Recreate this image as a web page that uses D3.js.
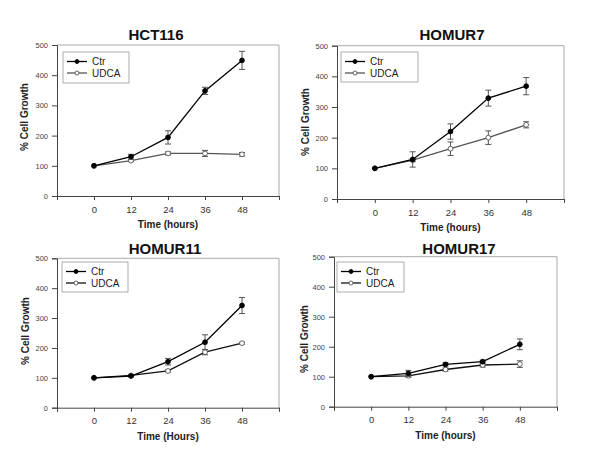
<!DOCTYPE html>
<html><head><meta charset="utf-8">
<script src="https://cdn.jsdelivr.net/npm/d3@7"></script>
<style>
html,body{margin:0;padding:0;background:#fff;}
svg{display:block;font-family:"Liberation Sans",Arial,sans-serif;}
</style></head>
<body>
<svg id="chart" width="600" height="467"></svg>
<script>
// ---- data ----
const timePoints = [0, 12, 24, 36, 48];
const yTicks = [0, 100, 200, 300, 400, 500];
const seriesNames = ["Ctr", "UDCA"];
const panelTitles = ["HCT116", "HOMUR7", "HOMUR11", "HOMUR17"];
const xLabels = ["Time (hours)", "Time (hours)", "Time (Hours)", "Time (hours)"];

const hct116Ctr = [100, 130, 194, 348, 449];
const hct116CtrErr = [0, 8, 22, 12, 30];
const hct116Udca = [100, 117, 141, 141, 138];
const hct116UdcaErr = [0, 3, 5, 10, 6];

const homur7Ctr = [100, 129, 220, 329, 368];
const homur7CtrErr = [0, 25, 25, 26, 28];
const homur7Udca = [100, 127, 164, 200, 242];
const homur7UdcaErr = [0, 5, 22, 22, 10];

const homur11Ctr = [100, 106, 154, 219, 342];
const homur11CtrErr = [0, 3, 11, 25, 27];
const homur11Udca = [100, 108, 123, 186, 216];
const homur11UdcaErr = [0, 3, 3, 9, 3];

const homur17Ctr = [100, 111, 141, 150, 208];
const homur17CtrErr = [0, 10, 5, 5, 18];
const homur17Udca = [100, 103, 124, 139, 142];
const homur17UdcaErr = [0, 5, 5, 7, 11];

const panelData = [
  [[hct116Ctr, hct116CtrErr], [hct116Udca, hct116UdcaErr]],
  [[homur7Ctr, homur7CtrErr], [homur7Udca, homur7UdcaErr]],
  [[homur11Ctr, homur11CtrErr], [homur11Udca, homur11UdcaErr]],
  [[homur17Ctr, homur17CtrErr], [homur17Udca, homur17UdcaErr]]
];

// ---- layout (positions only) ----
const layouts = [
  {l:57, t:45, r:279, b:196, tx:156, ty:40, ylx:24, yly:117, xly:228, lg:[63,52,129,83], udcaColor:"#555"},
  {l:337, t:45.7, r:564, b:199, tx:452, ty:40, ylx:305, yly:122, xly:231, lg:[341,52,418,82], udcaColor:"#555"},
  {l:57, t:258.3, r:279, b:407.7, tx:165, ty:254, ylx:25, yly:331, xly:440, lg:[62,262,128,292], udcaColor:"#111"},
  {l:334, t:256.7, r:557, b:406.7, tx:459, ty:254, ylx:304, yly:339, xly:439, lg:[337,262,404,292], udcaColor:"#111"}
];

const svg = d3.select("#chart");

layouts.forEach((L, i) => {
  const x = d3.scaleLinear().domain([-12, 60]).range([L.l, L.r]);
  const y = d3.scaleLinear().domain([0, 500]).range([L.b, L.t]);
  const g = svg.append("g");

  // frame (top/right light)
  g.append("path")
    .attr("d", `M${L.l},${L.t}H${L.r}V${L.b}`)
    .attr("fill", "none").attr("stroke", "#aaa").attr("stroke-width", 1);

  // x axis
  const xa = g.append("g").attr("transform", `translate(0,${L.b})`)
    .call(d3.axisBottom(x).tickValues([-12, 0, 12, 24, 36, 48, 60])
      .tickFormat(d => (d < 0 || d > 48) ? "" : d).tickSize(4).tickPadding(6));
  xa.select(".domain").attr("stroke", "#444");
  xa.selectAll(".tick line").attr("stroke", "#444");
  xa.selectAll("text").attr("fill", "#333").style("font-size", "9.5px");

  // y axis
  const ya = g.append("g").attr("transform", `translate(${L.l},0)`)
    .call(d3.axisLeft(y).tickValues(yTicks).tickSize(5).tickPadding(4));
  ya.select(".domain").attr("stroke", "#444");
  ya.selectAll(".tick line").attr("stroke", "#444");
  ya.selectAll("text").attr("fill", "#444").style("font-size", "7.5px");

  // title
  g.append("text").attr("x", L.tx).attr("y", L.ty).attr("text-anchor", "middle")
    .style("font-size", "15px").style("font-weight", "bold").attr("fill", "#111")
    .text(panelTitles[i]);
  // axis labels
  g.append("text").attr("x", (L.l + L.r) / 2).attr("y", L.xly).attr("text-anchor", "middle")
    .style("font-size", "10px").style("font-weight", "bold").attr("fill", "#222")
    .text(xLabels[i]);
  g.append("text").attr("transform", `translate(${L.ylx + 3.5},${L.yly}) rotate(-90)`)
    .attr("text-anchor", "middle")
    .style("font-size", "10px").style("font-weight", "bold").attr("fill", "#222")
    .text("% Cell Growth");

  const colors = ["#000", L.udcaColor];
  // draw UDCA first then Ctr on top
  [1, 0].forEach(s => {
    const [vals, errs] = panelData[i][s];
    const pts = timePoints.map((t, k) => ({t, v: vals[k], e: errs[k]}));
    // error bars
    pts.filter(p => p.e > 0).forEach(p => {
      const cx = x(p.t), y1 = y(p.v + p.e), y2 = y(p.v - p.e);
      g.append("path")
        .attr("d", `M${cx},${y1}V${y2}M${cx-3},${y1}H${cx+3}M${cx-3},${y2}H${cx+3}`)
        .attr("stroke", "#555").attr("stroke-width", 1).attr("fill", "none");
    });
    g.append("path").datum(pts)
      .attr("d", d3.line().x(p => x(p.t)).y(p => y(p.v)))
      .attr("fill", "none").attr("stroke", colors[s]).attr("stroke-width", 1.3);
    g.selectAll(null).data(pts).enter().append("circle")
      .attr("cx", p => x(p.t)).attr("cy", p => y(p.v)).attr("r", 2.4)
      .attr("fill", s === 0 ? "#000" : "#fff")
      .attr("stroke", s === 0 ? "#000" : "#555").attr("stroke-width", 0.9);
  });

  // legend
  const [lx0, ly0, lx1, ly1] = L.lg;
  g.append("rect").attr("x", lx0).attr("y", ly0).attr("width", lx1 - lx0).attr("height", ly1 - ly0)
    .attr("fill", "#fff").attr("stroke", "#999").attr("stroke-width", 0.8);
  seriesNames.forEach((name, s) => {
    const ry = ly0 + 9.5 + s * 11.5;
    g.append("line").attr("x1", lx0 + 4).attr("x2", lx0 + 24).attr("y1", ry).attr("y2", ry)
      .attr("stroke", colors[s]).attr("stroke-width", 1.3);
    g.append("circle").attr("cx", lx0 + 14).attr("cy", ry).attr("r", 2)
      .attr("fill", s === 0 ? "#000" : "#fff").attr("stroke", s === 0 ? "#000" : "#555").attr("stroke-width", 0.9);
    g.append("text").attr("x", lx0 + 29).attr("y", ry + 3.5)
      .style("font-size", "10px").attr("fill", "#222").text(name);
  });
});
</script>
</body></html>
